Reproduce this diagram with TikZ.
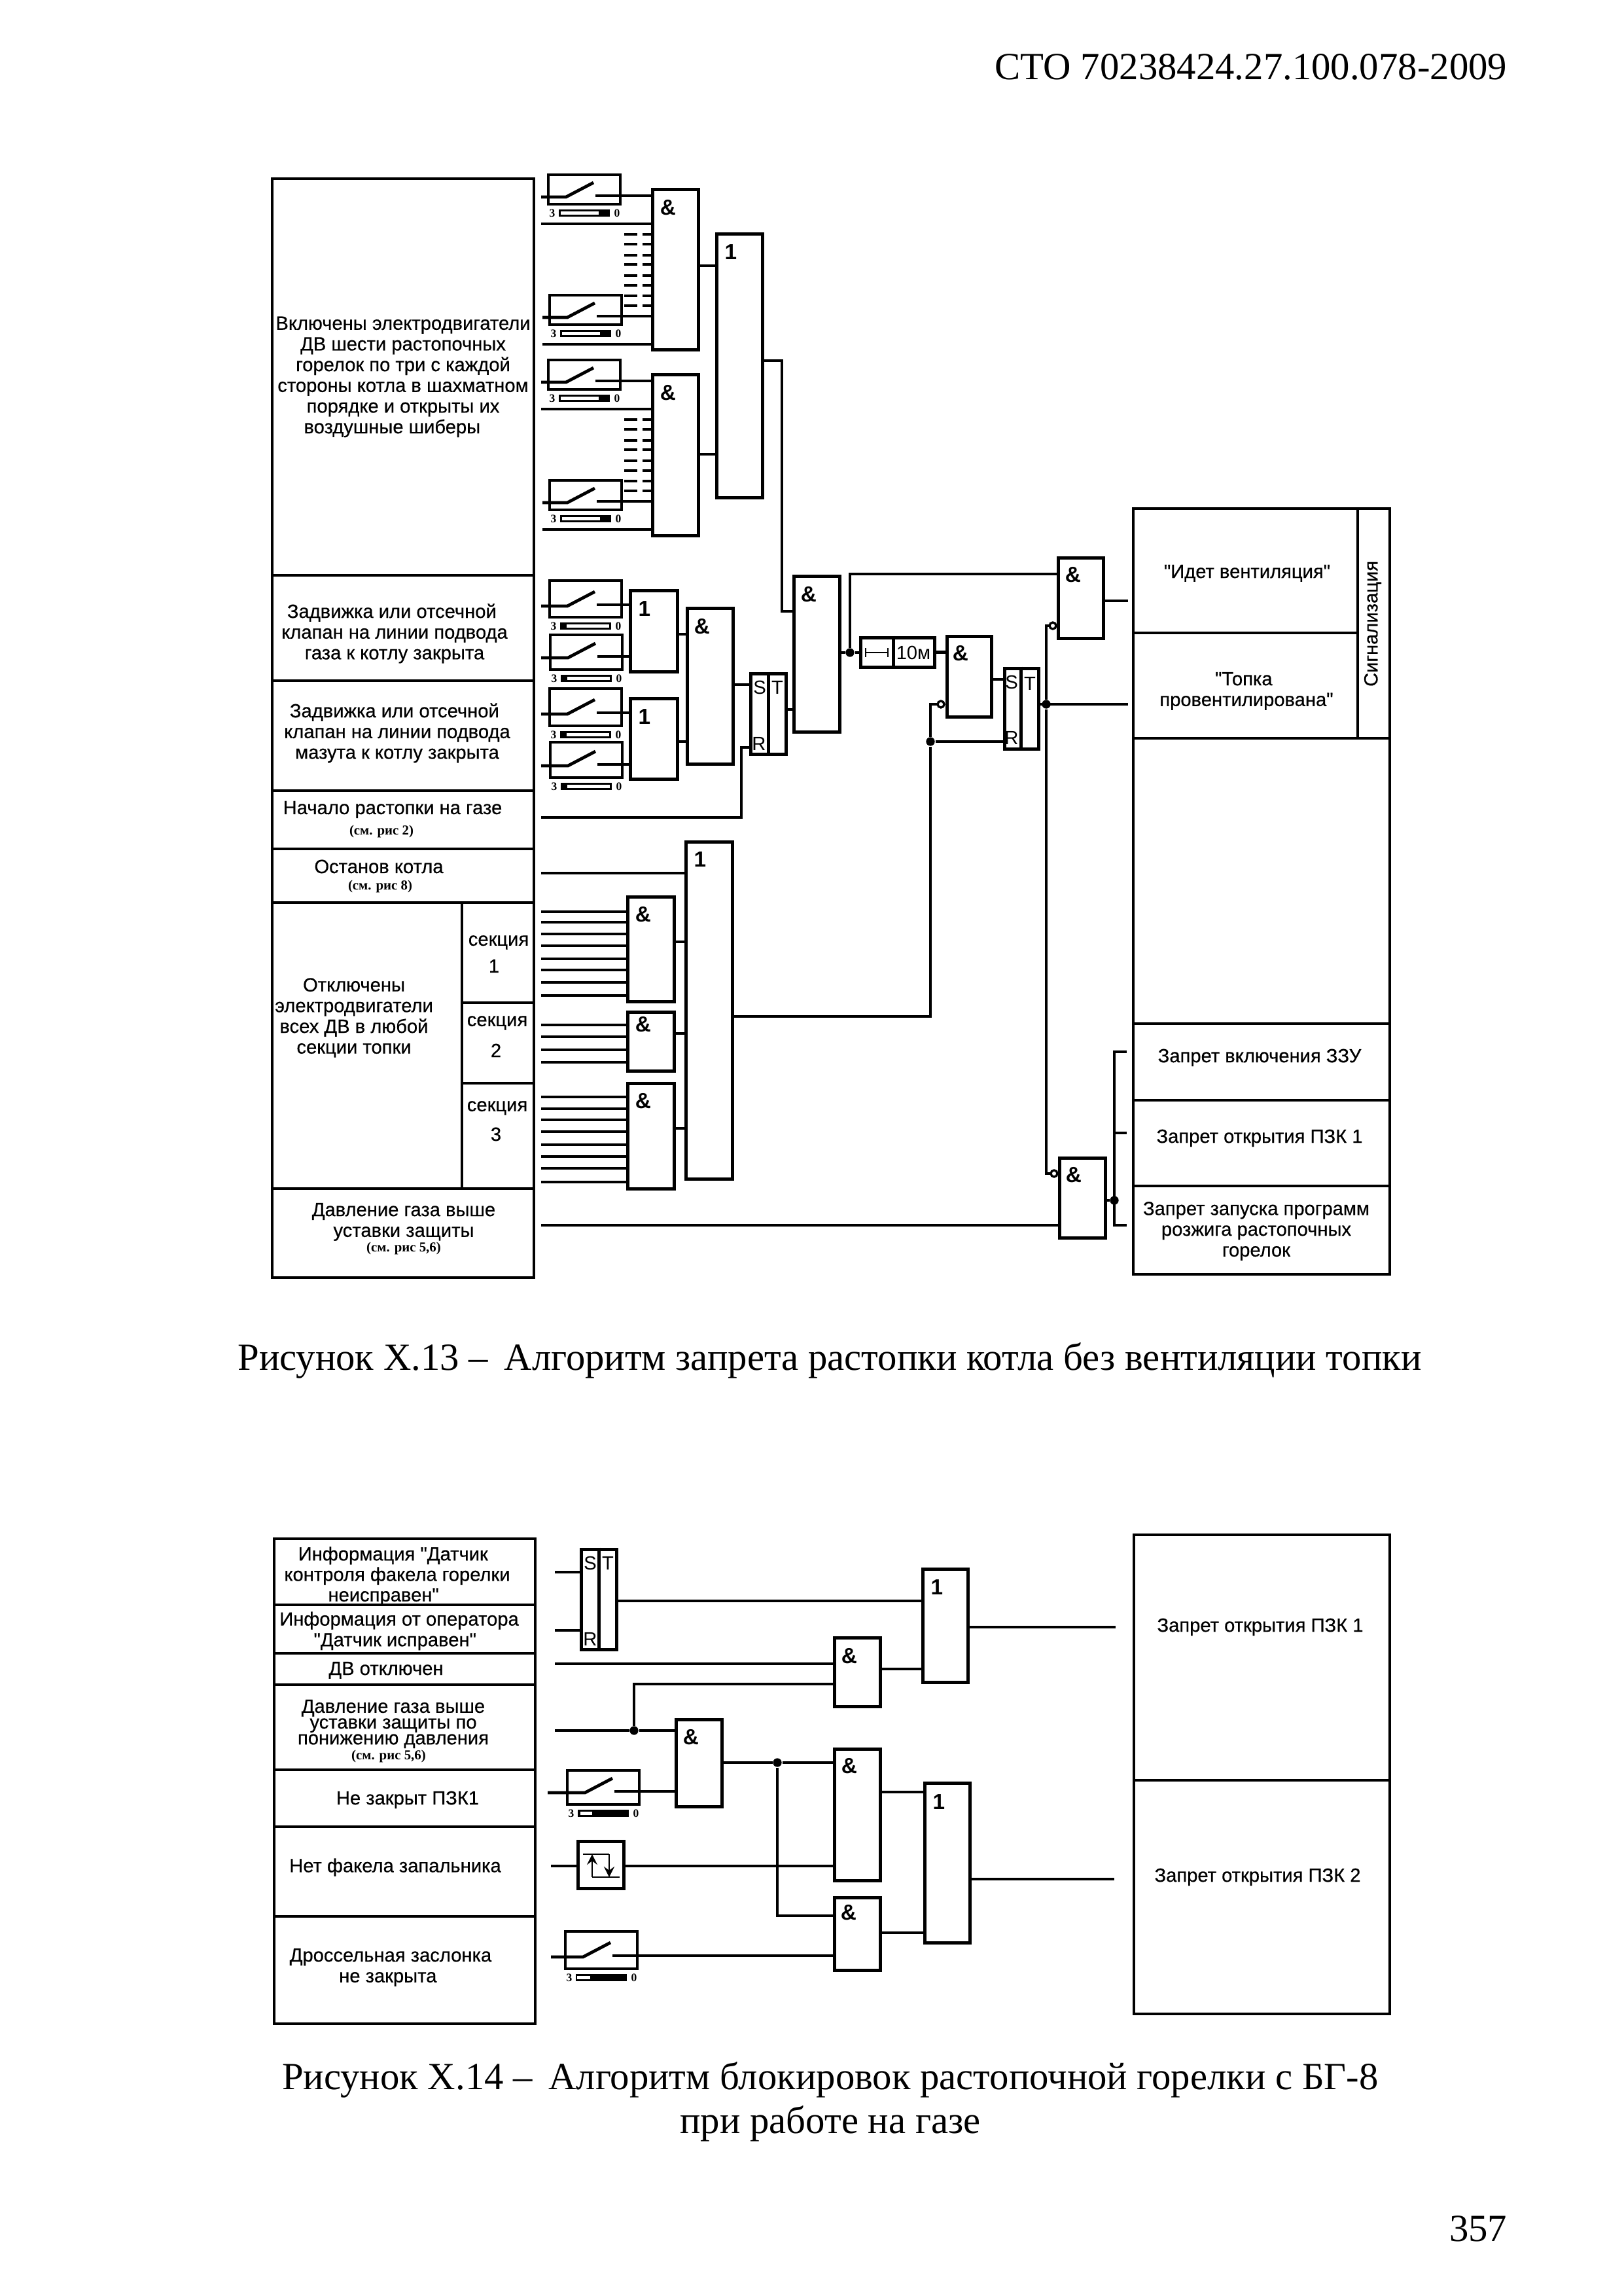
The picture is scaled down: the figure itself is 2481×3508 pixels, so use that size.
\documentclass[tikz,border=0pt]{standalone}
\usepackage{fontspec}
\setmainfont{Liberation Serif}
\newfontfamily\labfont[FakeBold=0.5]{Liberation Sans}
\newfontfamily\signfont{Liberation Sans}
\usetikzlibrary{fit}
\tikzset{
  gate/.style={draw,line width=1.2bp,inner sep=0pt},
  cell/.style={draw,line width=0.8bp,inner sep=0pt},
  swbox/.style={draw,line width=0.8bp,inner sep=0pt},
  barbox/.style={fill=black,inner sep=0pt},
  wire/.style={line width=1.15bp},
  thinwire/.style={line width=0.7bp},
  lab/.style={font=\labfont\fontsize{7bp}{7.6bp}\selectfont,align=center,inner sep=0pt,yshift=-0.7bp},
  tight/.style={font=\labfont\fontsize{7bp}{5.8bp}\selectfont,align=center,inner sep=0pt,yshift=-0.7bp},
  note/.style={font=\bfseries\fontsize{5bp}{6bp}\selectfont,inner sep=0pt},
  sign/.style={font=\signfont\bfseries\fontsize{8bp}{8bp}\selectfont,inner sep=0pt},
  rsign/.style={font=\signfont\fontsize{7bp}{7bp}\selectfont,inner sep=0pt},
  tiny/.style={font=\bfseries\fontsize{4.2bp}{5bp}\selectfont,inner sep=0pt},
  capt/.style={font=\fontsize{14.1bp}{16bp}\selectfont,inner sep=0pt,align=center},
  dot/.style={circle,fill=black,inner sep=0pt,minimum size=3.2bp},
  inv/.style={circle,draw,fill=white,line width=0.8bp,inner sep=0pt,minimum size=2.4bp},
}
%% name, corners
\newcommand{\block}[6][gate]{
  \coordinate (#2a) at (#3,#4);
  \coordinate (#2b) at (#5,#6);
  \node[#1,fit=(#2a)(#2b)] (#2) {};
}
%% name, x, y, height, input dy, white part from, to, wire start
\newcommand{\switchbox}[8]{
  \block[swbox]{#1}{#2}{#3}{#2+110}{#3+#4}
  \coordinate (#1s) at (#8,#3+#5);
  \coordinate (#1i) at (#2+27,#3+#5);
  \coordinate (#1e) at (#2+69,#3+#5-22);
  \coordinate (#1o) at (#2+72,#3+#5-2);
  \draw[wire] (#1s) -- (#1i) -- (#1e);
  \block[barbox]{#1bar}{#2+16}{#3+#4+8}{#2+94}{#3+#4+19}
  \fill[white] (#2+#6,#3+#4+11) rectangle (#2+#7,#3+#4+16);
  \node[tiny] (#1z) at (#2+6,#3+#4+14) {3};
  \node[tiny] (#1n) at (#2+105,#3+#4+14) {0};
}
\begin{document}
\begin{tikzpicture}[x=0.24bp,y=-0.24bp]
\useasboundingbox (0,0) rectangle (2481,3508);
%% header
\node[capt,anchor=east] (head) at (2304,102) {СТО 70238424.27.100.078-2009};
%% first table, left
\block[cell]{ra}{416}{273}{816}{879}
\block[cell]{rb}{416}{879}{816}{1040}
\block[cell]{rc}{416}{1040}{816}{1208}
\block[cell]{rd}{416}{1208}{816}{1297}
\block[cell]{re}{416}{1297}{816}{1379}
\block[cell]{rf}{416}{1379}{706}{1816}
\block[cell]{sa}{706}{1379}{816}{1532}
\block[cell]{sb}{706}{1532}{816}{1655}
\block[cell]{sc}{706}{1655}{816}{1816}
\block[cell]{rg}{416}{1816}{816}{1952}
\node[lab] (ta) at (616,573) {Включены электродвигатели\\ДВ шести растопочных\hspace*{9bp}\\горелок по три с каждой\hspace*{9bp}\\стороны котла в шахматном\hspace*{2bp}\\порядке  и открыты их\hspace*{9bp}\\воздушные  шиберы\hspace*{8bp}};
\node[lab] (tb) at (603,965) {Задвижка или отсечной\hspace*{2bp}\\клапан на линии подвода\\газа к котлу закрыта};
\node[lab] (tc) at (607,1117) {Задвижка или отсечной\hspace*{2bp}\\клапан на линии подвода\\мазута к котлу закрыта};
\node[lab] (td) at (600,1234) {Начало растопки на газе};
\node[note] (tdn) at (583,1270) {(см. рис 2)};
\node[lab] (te) at (579,1321) {Останов котла};
\node[note] (ten) at (581,1354) {(см. рис 8)};
\node[lab] (tf) at (541,1552) {Отключены\\электродвигатели\\всех ДВ в любой\\секции топки};
\node[lab] (tsa) at (762,1437) {секция};
\node[lab] (tsa1) at (755,1473) {1};
\node[lab] (tsb) at (760,1560) {секция};
\node[lab] (tsb1) at (758,1602) {2};
\node[lab] (tsc) at (760,1690) {секция};
\node[lab] (tsc1) at (758,1730) {3};
\node[lab] (tg) at (617,1864) {Давление газа выше\\уставки защиты};
\node[note] (tgn) at (617,1907) {(см. рис 5,6)};
%% first table, right
\block[cell]{oa}{1732}{777}{2075}{967}
\block[cell]{ob}{1732}{967}{2075}{1128}
\block[cell]{oc}{2075}{777}{2124}{1128}
\block[cell]{od}{1732}{1128}{2124}{1564}
\block[cell]{oe}{1732}{1564}{2124}{1681}
\block[cell]{of}{1732}{1681}{2124}{1812}
\block[cell]{og}{1732}{1812}{2124}{1947}
\node[lab] (toa) at (1906,873) {"Идет вентиляция"};
\node[lab] (tob) at (1905,1053) {"Топка\hspace*{2bp}\\провентилирована"};
\node[lab,rotate=90] (toc) at (2098,950) {Сигнализация};
\node[lab] (toe) at (1925,1613) {Запрет включения ЗЗУ};
\node[lab] (tof) at (1925,1736) {Запрет открытия ПЗК 1};
\node[lab] (tog) at (1920,1878) {Запрет запуска программ\\розжига растопочных\\горелок};
%% first gates
\block{g1}{997}{289}{1067}{534}
\block{g2}{997}{572}{1067}{818}
\block{g3}{1095}{357}{1165}{760}
\block{g4}{963}{902}{1035}{1026}
\block{g5}{963}{1067}{1035}{1190}
\block{g6}{1050}{929}{1120}{1167}
\block{rs1}{1147}{1029}{1201}{1152}
\block{g7}{1213}{880}{1283}{1118}
\block{tm}{1315}{974}{1428}{1019}
\block{g8}{1447}{972}{1515}{1095}
\block{rs2}{1535}{1021}{1587}{1144}
\block{g9}{1617}{852}{1686}{975}
\block{g10}{959}{1370}{1030}{1530}
\block{g11}{959}{1546}{1030}{1636}
\block{g12}{959}{1655}{1030}{1816}
\block{g13}{1048}{1286}{1119}{1801}
\block{g14}{1619}{1769}{1689}{1891}
\node[sign] (s1) at (1021,317) {\&};
\node[sign] (s2) at (1021,600) {\&};
\node[sign] (s3) at (1117,385) {1};
\node[sign] (s4) at (985,930) {1};
\node[sign] (s5) at (985,1095) {1};
\node[sign] (s6) at (1073,957) {\&};
\node[sign] (s7) at (1236,908) {\&};
\node[sign] (s8) at (1468,998) {\&};
\node[sign] (s9) at (1640,878) {\&};
\node[sign] (s10) at (983,1397) {\&};
\node[sign] (s11) at (983,1565) {\&};
\node[sign] (s12) at (983,1682) {\&};
\node[sign] (s13) at (1070,1313) {1};
\node[sign] (s14) at (1641,1795) {\&};
%% triggers and timer
\node[rsign] (rs1s) at (1161,1050) {S};
\node[rsign] (rs1t) at (1188,1050) {T};
\node[rsign] (rs1r) at (1160,1136) {R};
\node[rsign] (rs2s) at (1546,1042) {S};
\node[rsign] (rs2t) at (1574,1044) {T};
\node[rsign] (rs2r) at (1546,1127) {R};
\node[rsign] (tmt) at (1396,997) {10м};
\draw[gate] (1174,0 |- rs1.north) -- (1174,0 |- rs1.south);
\draw[gate] (1560,0 |- rs2.north) -- (1560,0 |- rs2.south);
\draw[gate] (1365,0 |- tm.north) -- (1365,0 |- tm.south);
\draw[thinwire] (1323,990) -- (1323,1004) (1323,997) -- (1357,997) (1357,990) -- (1357,1004);
%% switches on top
\switchbox{k1}{838}{267}{45}{34}{19}{77}{827}
\switchbox{k2}{840}{451}{45}{34}{19}{77}{829}
\switchbox{k3}{838}{550}{45}{34}{19}{77}{827}
\switchbox{k4}{840}{734}{45}{34}{19}{77}{829}
\switchbox{k5}{840}{887}{56}{39}{26}{91}{827}
\switchbox{k6}{841}{970}{53}{35}{26}{91}{827}
\switchbox{k7}{840}{1052}{57}{39}{26}{91}{827}
\switchbox{k8}{841}{1134}{54}{36}{26}{91}{827}
\foreach \k/\g in {k1/g1,k2/g1,k3/g2,k4/g2,k5/g4,k6/g4,k7/g5,k8/g5}
  \draw[wire] (\k o) -- (\k o -| \g.west);
%% inputs of the first two gates
\coordinate (i1) at (827,342);
\coordinate (i2) at (829,526);
\coordinate (i3) at (827,625);
\coordinate (i4) at (829,809);
\draw[wire] (i1) -- (i1 -| g1.west);
\draw[wire] (i2) -- (i2 -| g1.west);
\draw[wire] (i3) -- (i3 -| g2.west);
\draw[wire] (i4) -- (i4 -| g2.west);
%% broken inputs
\foreach \y in {358,373,390,404,421,436,452,467} {
  \draw[wire] (954,\y) -- (974,\y);
  \draw[wire] (982,\y) -- (982,\y -| g1.west);
  \draw[wire] (954,\y+283) -- (974,\y+283);
  \draw[wire] (982,\y+283) -- (982,\y+283 -| g2.west);
}
%% links of the first row
\draw[wire] (g1.east |- 0,406) -- (g3.west |- 0,406);
\draw[wire] (g2.east |- 0,694) -- (g3.west |- 0,694);
\draw[wire] (g3.east |- 0,551) -| (1195,934) -- (g7.west |- 0,934);
\draw[wire] (g4.east |- 0,969) -- (g6.west |- 0,969);
\draw[wire] (g5.east |- 0,1133) -- (g6.west |- 0,1133);
\draw[wire] (g6.east |- 0,1046) -- (rs1.west |- 0,1046);
\draw[wire] (rs1.east |- 0,1084) -- (g7.west |- 0,1084);
\coordinate (i5) at (827,1249);
\draw[wire] (i5) -| (1133,1142) -- (rs1.west |- 0,1142);
\node[dot] (j1) at (1299,997) {};
\draw[wire] (g7.east |- j1) -- (j1) -- (tm.west |- j1);
\draw[wire] (j1) |- (g9.west |- 0,877);
\draw[wire] (tm.east) -- (tm.east -| g8.west);
\draw[wire] (g8.east |- 0,1038) -- (rs2.west |- 0,1038);
\node[dot] (j2) at (1422,1133) {};
\draw[wire] (j2) -- (rs2.west |- j2);
\draw[wire] (g13.east |- 0,1553) -| (j2);
\draw[wire] (j2) |- (1438,1076);
\node[inv] (n1) at (1438,1076) {};
\node[dot] (j3) at (1599,1076) {};
\coordinate (o2) at (1724,1076);
\draw[wire] (rs2.east |- j3) -- (o2);
\draw[wire] (1609,956) -| (j3);
\draw[wire] (j3) |- (1611,1793);
\node[inv] (n2) at (1609,956) {};
\node[inv] (n3) at (1611,1793) {};
\coordinate (o1) at (1724,918);
\draw[wire] (g9.east |- o1) -- (o1);
%% lower groups
\coordinate (i6) at (827,1334);
\draw[wire] (i6) -- (i6 -| g13.west);
\foreach \y in {1393,1409,1427,1445,1465,1482,1501,1521}
  \draw[wire] (827,\y) -- (827,\y -| g10.west);
\foreach \y in {1566,1584,1604,1623}
  \draw[wire] (827,\y) -- (827,\y -| g11.west);
\foreach \y in {1676,1694,1711,1729,1749,1767,1785,1806}
  \draw[wire] (827,\y) -- (827,\y -| g12.west);
\draw[wire] (g10.east |- 0,1439) -- (g13.west |- 0,1439);
\draw[wire] (g11.east |- 0,1579) -- (g13.west |- 0,1579);
\draw[wire] (g12.east |- 0,1724) -- (g13.west |- 0,1724);
\coordinate (i7) at (827,1872);
\draw[wire] (i7) -- (i7 -| g14.west);
\node[dot] (j4) at (1703,1834) {};
\draw[wire] (g14.east |- j4) -- (j4);
\coordinate (o3) at (1722,1607);
\coordinate (o4) at (1722,1731);
\coordinate (o5) at (1722,1872);
\draw[wire] (o3) -| (o5 -| j4) -- (o5);
\draw[wire] (o4) -- (o4 -| j4);
%% first caption
\node[capt] (cap1) at (1268,2079) {Рисунок Х.13 –\, Алгоритм запрета растопки котла без вентиляции топки};
%% second table, left
\block[cell]{ua}{419}{2351}{818}{2452}
\block[cell]{ub}{419}{2452}{818}{2526}
\block[cell]{uc}{419}{2526}{818}{2574}
\block[cell]{ud}{419}{2574}{818}{2704}
\block[cell]{ue}{419}{2704}{818}{2791}
\block[cell]{uf}{419}{2791}{818}{2928}
\block[cell]{ug}{419}{2928}{818}{3092}
\node[lab,font=\labfont\fontsize{7bp}{7.5bp}\selectfont] (pa) at (607,2405) {Информация "Датчик\hspace*{3bp}\\контроля факела горелки\\неисправен"\hspace*{10bp}};
\node[lab] (pb) at (610,2489) {Информация от оператора\\"Датчик исправен"\hspace*{3bp}};
\node[lab] (pc) at (590,2549) {ДВ отключен};
\node[tight] (pd) at (601,2631) {Давление газа выше\\уставки защиты по\\понижению  давления};
\node[note] (pdn) at (594,2683) {(см. рис 5,6)};
\node[lab] (pe) at (623,2747) {Не закрыт  ПЗК1};
\node[lab] (pf) at (604,2850) {Нет факела запальника};
\node[lab] (pg) at (597,3003) {Дроссельная заслонка\\не закрыта\hspace*{2bp}};
%% second table, right
\block[cell]{va}{1733}{2345}{2124}{2720}
\block[cell]{vb}{1733}{2720}{2124}{3077}
\node[lab] (qa) at (1926,2483) {Запрет открытия ПЗК 1};
\node[lab] (qb) at (1922,2865) {Запрет открытия ПЗК 2};
%% second gates
\block{h1}{1410}{2397}{1479}{2570}
\block{h2}{1275}{2502}{1345}{2607}
\block{h3}{1275}{2672}{1345}{2873}
\block{h4}{1275}{2899}{1345}{3010}
\block{h5}{1413}{2724}{1482}{2968}
\block{h6}{1033}{2627}{1103}{2760}
\block{rs3}{888}{2367}{942}{2520}
\block{hy}{883}{2813}{953}{2885}
\node[sign] (w1) at (1432,2425) {1};
\node[sign] (w2) at (1298,2530) {\&};
\node[sign] (w3) at (1298,2698) {\&};
\node[sign] (w4) at (1297,2922) {\&};
\node[sign] (w5) at (1435,2753) {1};
\node[sign] (w6) at (1056,2654) {\&};
\node[rsign] (rs3s) at (902,2388) {S};
\node[rsign] (rs3t) at (929,2388) {T};
\node[rsign] (rs3r) at (902,2504) {R};
\draw[gate] (915,0 |- rs3.north) -- (915,0 |- rs3.south);
%% relay symbol
\draw[thinwire] (891,2833) -- (931,2833) (905,2868) -- (947,2868);
\draw[thinwire,->,>=stealth] (905,2868) -- (905,2833);
\draw[thinwire,->,>=stealth] (931,2833) -- (931,2868);
%% switches below
\switchbox{k9}{867}{2705}{52}{34}{20}{38}{837}
\switchbox{k10}{864}{2951}{57}{39}{18}{38}{842}
\draw[wire] (k9o) -- (k9o -| h6.west);
\draw[wire] (k10o) -- (k10o -| h4.west);
%% links of the second figure
\coordinate (x1) at (848,2402);
\coordinate (x2) at (848,2491);
\coordinate (x3) at (848,2542);
\coordinate (x4) at (848,2644);
\coordinate (x5) at (842,2851);
\draw[wire] (x1) -- (x1 -| rs3.west);
\draw[wire] (x2) -- (x2 -| rs3.west);
\draw[wire] (x3) -- (x3 -| h2.west);
\draw[wire] (rs3.east |- 0,2446) -- (h1.west |- 0,2446);
\node[dot] (j5) at (969,2644) {};
\draw[wire] (x4) -- (j5) -- (h6.west |- j5);
\draw[wire] (j5) |- (h2.west |- 0,2573);
\node[dot] (j6) at (1188,2693) {};
\draw[wire] (h6.east |- j6) -- (j6) -- (h3.west |- j6);
\draw[wire] (j6) |- (h4.west |- 0,2927);
\draw[wire] (x5) -- (hy.west |- x5);
\draw[wire] (hy.east |- x5) -- (h3.west |- x5);
\draw[wire] (h2.east |- 0,2550) -- (h1.west |- 0,2550);
\draw[wire] (h3.east |- 0,2738) -- (h5.west |- 0,2738);
\draw[wire] (h4.east |- 0,2953) -- (h5.west |- 0,2953);
\coordinate (y1) at (1705,2486);
\coordinate (y2) at (1703,2871);
\draw[wire] (h1.east |- y1) -- (y1);
\draw[wire] (h5.east |- y2) -- (y2);
%% second caption and page number
\node[capt] (cap2) at (1269,3211) {Рисунок Х.14 –\, Алгоритм блокировок растопочной горелки с БГ-8\\при работе на газе};
\node[capt,anchor=east] (page) at (2304,3405) {357};
\end{tikzpicture}
\end{document}
